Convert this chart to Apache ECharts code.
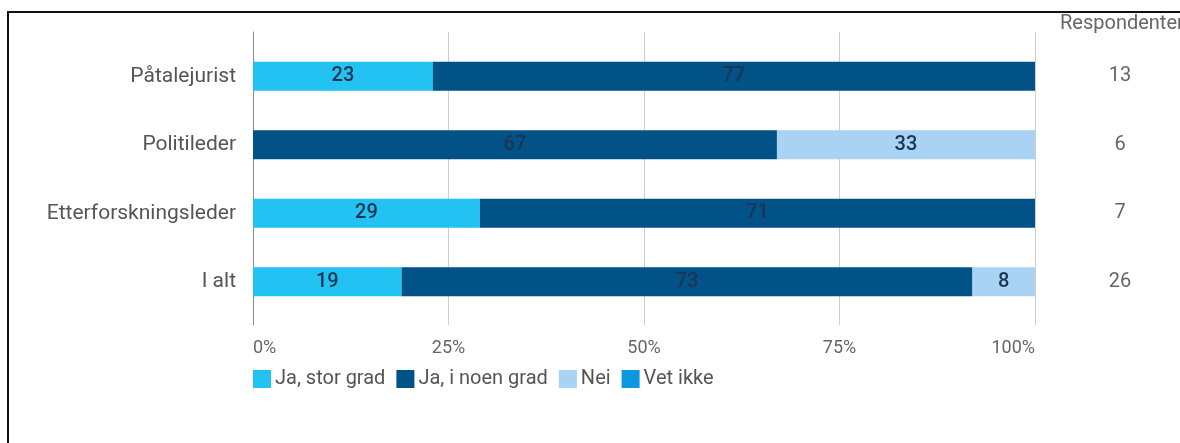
<!DOCTYPE html>
<html>
<head>
<meta charset="utf-8">
<script src="https://cdn.jsdelivr.net/npm/echarts@6/dist/echarts.min.js"></script>
<style>
  html, body { margin: 0; padding: 0; background: #fff; }
  #chart { width: 1180px; height: 443px; position: absolute; left: 0; top: 0; }
  #frame { position: absolute; left: 7px; top: 11px; width: 1200px; height: 460px;
           border-top: 2px solid #111; border-left: 2px solid #111; box-sizing: border-box; }
</style>
</head>
<body>
<div id="frame"></div>
<div id="chart"></div>
<script>
const categories = ['Påtalejurist', 'Politileder', 'Etterforskningsleder', 'I alt'];
const respondents = ['13', '6', '7', '26'];
const seriesNames = ['Ja, stor grad', 'Ja, i noen grad', 'Nei', 'Vet ikke'];
const jaStorGrad = [23, 0, 29, 19];
const jaNoenGrad = [77, 67, 71, 73];
const nei = [0, 33, 0, 8];
const vetIkke = [0, 0, 0, 0];
const xTicks = [0, 25, 50, 75, 100];
const colors = ['#22c2f2', '#005287', '#a8d3f4', '#0d97df'];

const values = [jaStorGrad, jaNoenGrad, nei, vetIkke];
const font = 'Roboto, "Noto Sans", sans-serif';

const chart = echarts.init(document.getElementById('chart'), null, { renderer: 'canvas' });
chart.setOption({
  animation: false,
  color: colors,
  textStyle: { fontFamily: font },
  title: {
    text: 'Respondenter', left: 1055, top: 9,
    textStyle: { fontSize: 20, fontWeight: 'normal', color: '#666', fontFamily: font }
  },
  legend: {
    data: seriesNames, left: 253, top: 369, icon: 'rect', padding: 0,
    itemWidth: 18, itemHeight: 18, itemGap: 11,
    textStyle: { fontSize: 20, color: '#555', padding: [0, 0, 0, -1] }
  },
  grid: [
    { left: 253, right: 145, top: 42, height: 274 },
    { left: 253, right: 145, top: 32, height: 293 }
  ],
  xAxis: [
    { gridIndex: 0, type: 'value', min: 0, max: 100, interval: 25, show: false },
    { gridIndex: 1, type: 'value', min: xTicks[0], max: xTicks[xTicks.length - 1], interval: 25,
      axisLine: { show: false }, axisTick: { show: false },
      splitLine: { show: true, lineStyle: { color: '#cfcfcf', width: 1 } },
      axisLabel: { formatter: '{value}%', color: '#666', fontSize: 18, margin: 14,
                   alignMinLabel: 'left', alignMaxLabel: 'right' } }
  ],
  yAxis: [
    { gridIndex: 0, type: 'category', data: categories, inverse: true,
      axisLine: { show: false }, axisTick: { show: false },
      axisLabel: { color: '#555', fontSize: 21, margin: 17 } },
    { gridIndex: 1, type: 'value', min: 0, max: 1,
      axisLine: { show: true, lineStyle: { color: '#8a8a8a', width: 1 } },
      axisTick: { show: false }, axisLabel: { show: false }, splitLine: { show: false } },
    { gridIndex: 0, type: 'category', data: respondents, inverse: true, position: 'right',
      axisLine: { show: false }, axisTick: { show: false },
      axisLabel: { color: '#666', fontSize: 20, margin: 85, align: 'center' } }
  ],
  series: seriesNames.map((name, i) => ({
    name: name, type: 'bar', stack: 'total', xAxisIndex: 0, yAxisIndex: 0,
    data: values[i], barWidth: 29,
    label: {
      show: true, position: 'inside', color: '#1c3554', fontSize: 20, fontWeight: 500,
      formatter: p => (p.value ? String(p.value) : '')
    }
  }))
});
</script>
</body>
</html>
